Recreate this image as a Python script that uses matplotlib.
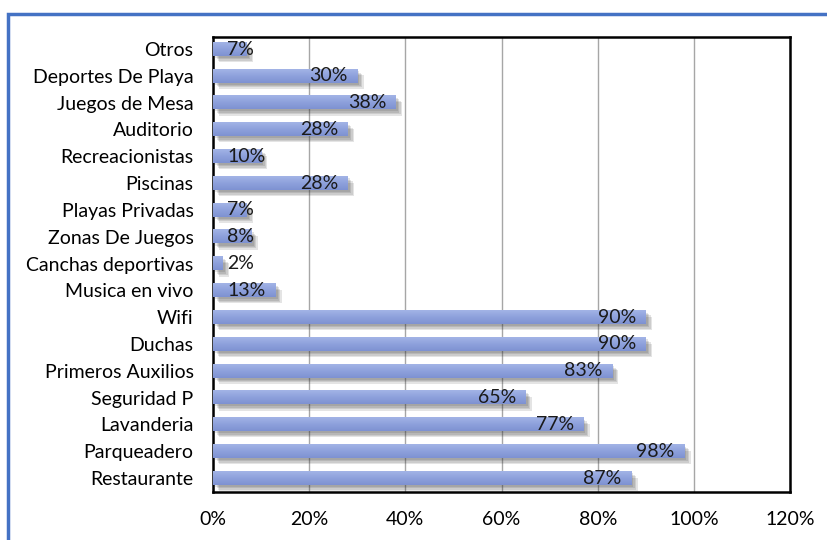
import numpy as np
import matplotlib.pyplot as plt
import matplotlib.patheffects as pe
from matplotlib.patches import Rectangle
from matplotlib.colors import LinearSegmentedColormap

# data (top to bottom as drawn)
categories = ["Otros", "Deportes De Playa", "Juegos de Mesa", "Auditorio",
              "Recreacionistas", "Piscinas", "Playas Privadas", "Zonas De Juegos",
              "Canchas deportivas", "Musica en vivo", "Wifi", "Duchas",
              "Primeros Auxilios", "Seguridad P", "Lavanderia", "Parqueadero",
              "Restaurante"]
values = [0.07, 0.30, 0.38, 0.28, 0.10, 0.28, 0.07, 0.08, 0.02, 0.13,
          0.90, 0.90, 0.83, 0.65, 0.77, 0.98, 0.87]
xticks = [0, 0.2, 0.4, 0.6, 0.8, 1.0, 1.2]

plt.rcParams['font.family'] = ['Lato', 'DejaVu Sans']

fig = plt.figure(figsize=(8.27, 5.4), dpi=100)
ax = fig.add_axes([0.2576, 0.0889, 0.6977, 0.8426])

# blue outer frame (only top/left visible)
fig.patches.append(Rectangle((0.0097, -0.2), 1.2, 0.2 + 0.974, transform=fig.transFigure,
                             fill=False, edgecolor="#4472C4", linewidth=2.5))

pos = list(range(len(categories)))
h = 0.5
bars = ax.barh(pos, values, height=h, color="#8FA2DC", zorder=3)

# soft drop shadow
shadow = [pe.SimplePatchShadow(offset=(d, -d), shadow_rgbFace="#303030", alpha=0.13)
          for d in (4.5, 3.5, 2.5, 1.5)]
for b in bars:
    b.set_path_effects(shadow + [pe.Normal()])

# vertical gradient fill on each bar
grad_cmap = LinearSegmentedColormap.from_list("bar", ["#A3B4E6", "#8EA1DC", "#7E92D2"])
grad = np.linspace(0, 1, 64).reshape(-1, 1)
for p, v in zip(pos, values):
    ax.imshow(grad, cmap=grad_cmap, aspect="auto", interpolation="bilinear",
              extent=(0, v, p + h / 2, p - h / 2), zorder=3.5)

for p, v in zip(pos, values):
    label = f"{round(v * 100):.0f}%"
    if v < 0.12:
        ax.text(0.03, p, label, ha="left", va="center", fontsize=14, color="#1a1a1a", zorder=4)
    else:
        ax.text(v - 0.02, p, label, ha="right", va="center", fontsize=14, color="#1a1a1a", zorder=4)

ax.set_yticks(pos)
ax.set_yticklabels(categories, fontsize=14)
ax.set_ylim(16.52, -0.45)
ax.set_xlim(0, 1.2)
ax.set_xticks(xticks)
ax.set_xticklabels([f"{int(round(t * 100))}%" for t in xticks], fontsize=14)
ax.tick_params(axis="y", length=0, pad=14)
ax.tick_params(axis="x", length=0, pad=14)
ax.xaxis.grid(True, color="#A6A6A6", linewidth=1, zorder=0)
for s in ax.spines.values():
    s.set_color("black")
    s.set_linewidth(1.8)

fig.savefig("out.png", dpi=100)
